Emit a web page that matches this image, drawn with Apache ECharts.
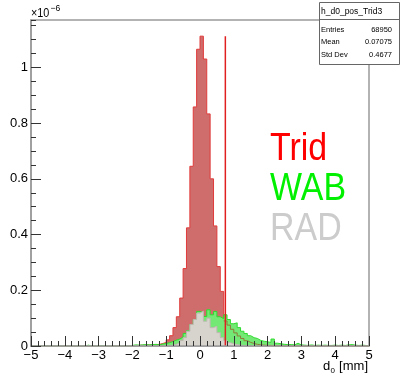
<!DOCTYPE html>
<html>
<head>
<meta charset="utf-8">
<script src="https://cdn.jsdelivr.net/npm/echarts@6/dist/echarts.min.js"></script>
<style>
  html, body { margin: 0; padding: 0; background: #fff; }
  #main { width: 401px; height: 380px; }
</style>
</head>
<body>
<div id="main"></div>
<script>
// 100 bins of 0.1 mm between -5 and 5, values in units of 1e-6
var binLow = -5;
var binWidth = 0.1;

// Trid
var trid = [
  0, 0, 0, 0, 0, 0, 0, 0, 0, 0,
  0, 0, 0, 0, 0, 0, 0, 0, 0, 0,
  0, 0, 0, 0, 0, 0, 0, 0, 0, 0,
  0.002, 0.002, 0.003, 0.003, 0.004, 0.004, 0.005, 0.006, 0.009, 0.013,
  0.022, 0.037, 0.066, 0.105, 0.172, 0.278, 0.424, 0.645, 0.858, 1.065,
  1.112, 1.03, 0.833, 0.6, 0.431, 0.285, 0.196, 0.09, 0.075, 0.06,
  0.047, 0.036, 0.027, 0.019, 0.013, 0.009, 0.006, 0.004, 0.003, 0.002,
  0.002, 0.001, 0.001, 0.001, 0, 0, 0, 0, 0, 0,
  0, 0, 0, 0, 0, 0, 0, 0, 0, 0,
  0, 0, 0, 0, 0, 0, 0, 0, 0, 0
];
// WAB
var wab = [
  0, 0, 0, 0, 0, 0, 0, 0, 0, 0,
  0, 0, 0, 0, 0, 0, 0.003, 0, 0, 0,
  0.002, 0, 0, 0, 0, 0, 0, 0, 0, 0.002,
  0.004, 0.003, 0.004, 0.005, 0.004, 0.005, 0.006, 0.004, 0.007, 0.009,
  0.012, 0.016, 0.021, 0.025, 0.032, 0.045, 0.055, 0.077, 0.095, 0.124,
  0.12, 0.106, 0.13, 0.112, 0.124, 0.105, 0.098, 0.112, 0.095, 0.08,
  0.083, 0.066, 0.053, 0.045, 0.037, 0.03, 0.027, 0.02, 0.017, 0.015,
  0.013, 0.025, 0.01, 0.008, 0.006, 0.005, 0.005, 0.004, 0.01, 0.004,
  0.003, 0.002, 0.004, 0.002, 0.003, 0.002, 0.003, 0.002, 0.002, 0.003,
  0.002, 0.003, 0.002, 0.004, 0.005, 0.003, 0.002, 0.003, 0.002, 0
];
// RAD
var rad = [
  0, 0, 0, 0, 0, 0, 0, 0, 0, 0,
  0, 0, 0, 0, 0, 0, 0, 0, 0, 0,
  0, 0, 0, 0, 0, 0, 0, 0, 0, 0,
  0, 0, 0, 0, 0, 0, 0, 0, 0, 0.001,
  0.001, 0.003, 0.006, 0.012, 0.02, 0.03, 0.053, 0.077, 0.095, 0.118,
  0.125, 0.089, 0.1, 0.066, 0.071, 0.048, 0.03, 0.02, 0.012, 0.008,
  0.005, 0.003, 0.002, 0.001, 0, 0, 0, 0, 0, 0,
  0, 0, 0, 0, 0, 0, 0, 0, 0, 0,
  0, 0, 0, 0, 0, 0, 0, 0, 0, 0,
  0, 0, 0, 0, 0, 0, 0, 0, 0, 0
];

var cutX = 0.75;      // vertical cut line
var cutTop = 1.112;
var tailFrom = 0.7;   // Trid outline seen through the WAB fill
var yMax = 1.17;

var statTitle = 'h_d0_pos_Trid3';
var statNames = ['Entries', 'Mean', 'Std Dev'];
var statValues = ['68950', '0.07075', '0.4677'];

var font = 'Liberation Sans, Arial, Helvetica, sans-serif';

// histogram -> step points at bin low edges, last point closes the final bin
function toSteps(vals) {
  var pts = [];
  for (var i = 0; i < vals.length; i++) {
    pts.push([+(binLow + i * binWidth).toFixed(2), vals[i]]);
  }
  pts.push([+(binLow + vals.length * binWidth).toFixed(2), vals[vals.length - 1]]);
  return pts;
}

var tidTail = toSteps(trid).filter(function (p) { return p[0] >= tailFrom - 1e-9; });

var chart = echarts.init(document.getElementById('main'));

var statGraphics = [
  { type: 'rect', z: 100, shape: { x: 319.5, y: 2.5, width: 80, height: 62 },
    style: { fill: '#fff', stroke: '#666', lineWidth: 1 } },
  { type: 'line', z: 101, shape: { x1: 319.5, y1: 19.5, x2: 399.5, y2: 19.5 },
    style: { stroke: '#666', lineWidth: 1 } },
  { type: 'text', z: 101, x: 321, y: 11.5,
    style: { text: statTitle, font: '8.5px ' + font, fill: '#000', textAlign: 'left', textVerticalAlign: 'middle' } }
];
statNames.forEach(function (n, i) {
  var y = 30 + i * 12.3;
  statGraphics.push({ type: 'text', z: 101, x: 321, y: y,
    style: { text: n, font: '7.5px ' + font, fill: '#000', textAlign: 'left', textVerticalAlign: 'middle' } });
  statGraphics.push({ type: 'text', z: 101, x: 392, y: y,
    style: { text: statValues[i], font: '7.5px ' + font, fill: '#000', textAlign: 'right', textVerticalAlign: 'middle' } });
});

var option = {
  animation: false,
  backgroundColor: '#fff',
  grid: { left: 31, right: 32, top: 20, bottom: 34, show: true, borderColor: '#9a9a9a', borderWidth: 1.5, backgroundColor: 'transparent' },
  xAxis: {
    type: 'value', min: -5, max: 5, interval: 1, z: 10,
    axisLine: { onZero: false, lineStyle: { color: '#9a9a9a', width: 1.5 } },
    axisTick: { inside: true, length: 10, lineStyle: { color: '#333' } },
    minorTick: { show: true, splitNumber: 5, length: 5, lineStyle: { color: '#333' } },
    splitLine: { show: false },
    axisLabel: {
      margin: 3, color: '#000', fontSize: 13, fontFamily: font,
      formatter: function (v) { return v < 0 ? '\u2212' + (-v) : String(v); }
    }
  },
  yAxis: [{
    type: 'value', min: 0, max: yMax, interval: 0.2, z: 10,
    axisLine: { show: true, onZero: false, lineStyle: { color: '#9a9a9a', width: 1.5 } },
    axisTick: { inside: true, length: 10, lineStyle: { color: '#333' } },
    splitLine: { show: false },
    axisLabel: {
      margin: 3, color: '#000', fontSize: 13, fontFamily: font, showMaxLabel: false,
      formatter: function (v) {
        return Math.abs(v - Math.round(v * 5) / 5) < 1e-6 ? String(Math.round(v * 10) / 10) : '';
      }
    }
  }, {
    // minor ticks every 0.05
    type: 'value', min: 0, max: yMax, interval: 0.05, position: 'left', z: 10,
    axisLine: { show: false, onZero: false },
    axisTick: { inside: true, length: 5, lineStyle: { color: '#333' } },
    axisLabel: { show: false },
    splitLine: { show: false }
  }],
  series: [
    {
      name: 'Trid', type: 'line', step: 'end', data: toSteps(trid), symbol: 'none', silent: true, z: 2,
      lineStyle: { color: '#e03c3c', width: 1 },
      areaStyle: { color: '#cf6c6c', opacity: 1 }
    },
    {
      name: 'WAB', type: 'line', step: 'end', data: toSteps(wab), symbol: 'none', silent: true, z: 3,
      lineStyle: { color: '#2fdc2f', width: 1 },
      areaStyle: { color: '#74e874', opacity: 1 }
    },
    {
      name: 'RAD', type: 'line', step: 'end', data: toSteps(rad), symbol: 'none', silent: true, z: 4,
      lineStyle: { color: '#bdb8b0', width: 1 },
      areaStyle: { color: '#d7d3cd', opacity: 1 }
    },
    {
      name: 'Trid tail', type: 'line', step: 'end', data: tidTail, symbol: 'none', silent: true, z: 5,
      lineStyle: { color: '#8f7a3a', width: 1 }
    },
    {
      name: 'cut', type: 'line', data: [[cutX, 0], [cutX, cutTop]], symbol: 'none', silent: true, z: 6,
      lineStyle: { color: '#e02020', width: 1.5 }
    }
  ],
  graphic: [
    { type: 'text', z: 100, x: 31, y: 14, scaleX: 0.9,
      style: { text: '\u00d710', font: '12px ' + font, fill: '#000', textAlign: 'left', textVerticalAlign: 'middle' } },
    { type: 'text', z: 100, x: 50.5, y: 9, scaleX: 0.95,
      style: { text: '\u22126', font: '9px ' + font, fill: '#000', textAlign: 'left', textVerticalAlign: 'middle' } },
    { type: 'text', z: 100, x: 323, y: 366,
      style: { text: 'd', font: '13px ' + font, fill: '#000', textAlign: 'left', textVerticalAlign: 'middle' } },
    { type: 'text', z: 100, x: 330.5, y: 371,
      style: { text: '0', font: '8px ' + font, fill: '#000', textAlign: 'left', textVerticalAlign: 'middle' } },
    { type: 'text', z: 100, x: 368, y: 366,
      style: { text: '[mm]', font: '13px ' + font, fill: '#000', textAlign: 'right', textVerticalAlign: 'middle' } },
    { type: 'text', z: 100, x: 270, y: 149, scaleX: 0.87,
      style: { text: 'Trid', font: '39px ' + font, fill: '#ff0000', textAlign: 'left', textVerticalAlign: 'middle' } },
    { type: 'text', z: 100, x: 270, y: 189, scaleX: 0.87,
      style: { text: 'WAB', font: '39px ' + font, fill: '#00f000', textAlign: 'left', textVerticalAlign: 'middle' } },
    { type: 'text', z: 100, x: 270, y: 229, scaleX: 0.87,
      style: { text: 'RAD', font: '39px ' + font, fill: '#cccccc', textAlign: 'left', textVerticalAlign: 'middle' } }
  ].concat(statGraphics)
};

chart.setOption(option);
</script>
</body>
</html>
